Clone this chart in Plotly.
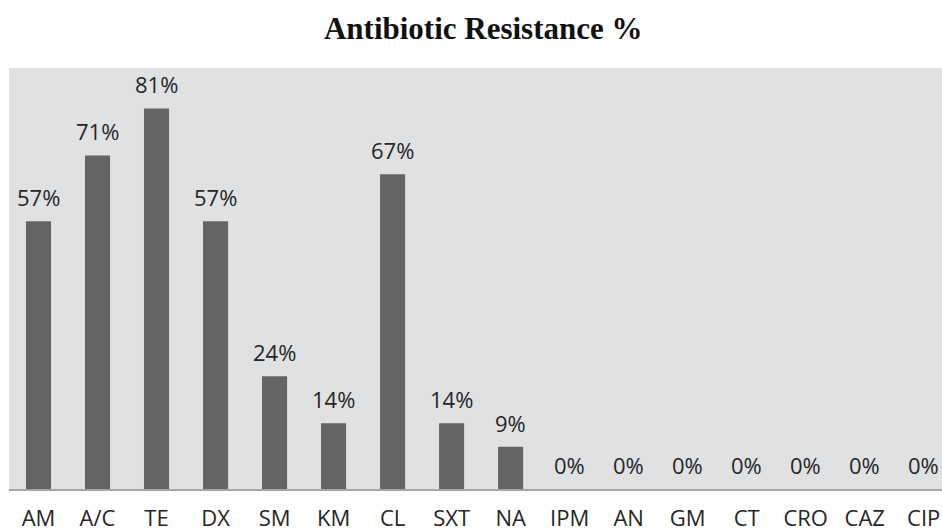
import plotly.graph_objects as go

categories = ["AM", "A/C", "TE", "DX", "SM", "KM", "CL", "SXT", "NA",
              "IPM", "AN", "GM", "CT", "CRO", "CAZ", "CIP"]
resistance = [57, 71, 81, 57, 24, 14, 67, 14, 9, 0, 0, 0, 0, 0, 0, 0]
labels = ["57%", "71%", "81%", "57%", "24%", "14%", "67%", "14%", "9%",
          "0%", "0%", "0%", "0%", "0%", "0%", "0%"]

fig = go.Figure()
fig.add_trace(go.Bar(
    x=categories, y=resistance, width=0.425,
    marker=dict(color="#646466", line=dict(width=0)),
    hoverinfo="x+y",
))

for c, v, t in zip(categories, resistance, labels):
    fig.add_annotation(x=c, y=v, text=t, showarrow=False, yanchor="bottom",
                       yshift=7, font=dict(family="Open Sans", size=22, color="#262626"))

fig.update_layout(
    width=942, height=531,
    margin=dict(l=9, r=0, t=68, b=42, autoexpand=False),
    paper_bgcolor="white",
    plot_bgcolor="#e0e1e3",
    showlegend=False,
    title=dict(text="<b>Antibiotic Resistance %</b>", x=0.513, xanchor="center",
               y=0.947, yanchor="middle", yref="container",
               font=dict(family="Liberation Serif", size=31, color="#111111")),
    bargap=0.5,
)
fig.update_xaxes(range=[-0.5, 15.31], showline=True, linecolor="#a6a6a6", linewidth=2,
                 showgrid=False, ticks="", ticklabelstandoff=9,
                 tickfont=dict(family="Open Sans", size=22, color="#262626"))
fig.update_yaxes(range=[0, 89.6], showgrid=False, zeroline=False, showticklabels=False,
                 showline=False)

fig.write_html("out.html", config={"displayModeBar": False},
               post_script="document.body.style.margin='0';document.body.style.overflow='hidden';")
